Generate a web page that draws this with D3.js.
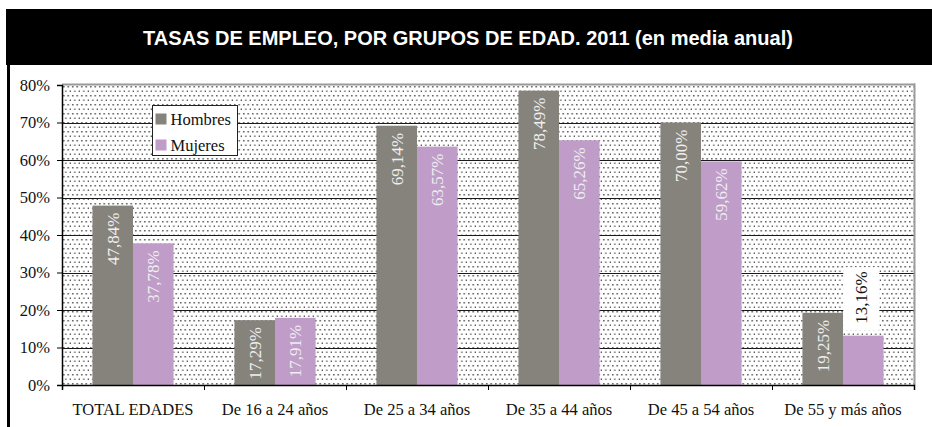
<!DOCTYPE html>
<html lang="es">
<head>
<meta charset="utf-8">
<title>Tasas de empleo por grupos de edad 2011</title>
<script src="https://cdn.jsdelivr.net/npm/d3@7"></script>
<style>
  html, body { margin: 0; padding: 0; background: #ffffff; }
  svg { display: block; }
</style>
</head>
<body>
<div id="container"></div>
<script>
// Tasas de empleo, por grupos de edad. 2011 - grouped bar chart

//_____ DATA _____
const categories = [ 'TOTAL EDADES', 'De 16 a 24 años', 'De 25 a 34 años', 'De 35 a 44 años', 'De 45 a 54 años', 'De 55 y más años' ];
const seriesNames = [ 'Hombres', 'Mujeres' ];
const hombres = [ 47.84, 17.29, 69.14, 78.49, 70.00, 19.25 ];
const mujeres = [ 37.78, 17.91, 63.57, 65.26, 59.62, 13.16 ];
const yTicks = [ 0, 10, 20, 30, 40, 50, 60, 70, 80 ];

const titleText = 'TASAS DE EMPLEO, POR GRUPOS DE EDAD. 2011 (en media anual)';


//_____ VARIABLES _____
const W = 932, H = 427;
const margin = { top: 85, right: 18, bottom: 42, left: 62 };
const width = W - margin.left - margin.right;
const height = H - margin.top - margin.bottom;

const SERIF = "'Liberation Serif', 'DejaVu Serif', 'Times New Roman', serif";
const SANS = "'Liberation Sans', Arial, 'DejaVu Sans', sans-serif";

const colors = { Hombres: '#86837d', Mujeres: '#c09cc8' };

//>>> Flatten into one row per bar
const rows = [];
categories.forEach( ( c, i ) => {
  rows.push( { cat: c, serie: 'Hombres', value: hombres[ i ] } );
  rows.push( { cat: c, serie: 'Mujeres', value: mujeres[ i ] } );
} );


//_____ SCALES _____
const x0 = d3.scaleBand()
  .domain( categories )
  .range( [ 0, width ] )
  .paddingInner( 0 )
  .paddingOuter( 0 );

//--- gap between groups = 150% of a bar width
const x1 = d3.scaleBand()
  .domain( seriesNames )
  .range( [ 0, x0.bandwidth() ] )
  .paddingInner( 0 )
  .paddingOuter( 0.75 );

const y = d3.scaleLinear()
  .domain( [ 0, 80 ] )
  .range( [ height, 0 ] );

//>>> boundaries between groups for the x tick marks
const xEdges = d3.scaleLinear()
  .domain( [ 0, categories.length ] )
  .range( [ 0, width ] );


//_____ SVG _____
const svg = d3.select( '#container' )
  .append( 'svg' )
  .attr( 'width', W )
  .attr( 'height', H );

//>>> dotted background pattern
const defs = svg.append( 'defs' );
const pattern = defs.append( 'pattern' )
  .attr( 'id', 'dots' )
  .attr( 'patternUnits', 'userSpaceOnUse' )
  .attr( 'width', 4.5 )
  .attr( 'height', 9 );
pattern.append( 'rect' )
  .attr( 'width', 4.5 )
  .attr( 'height', 9 )
  .attr( 'fill', '#ffffff' );
[ [ 1, 1 ], [ 3.25, 5.5 ] ].forEach( p => {
  pattern.append( 'rect' )
    .attr( 'x', p[ 0 ] )
    .attr( 'y', p[ 1 ] )
    .attr( 'width', 1.5 )
    .attr( 'height', 1.5 )
    .attr( 'fill', '#555555' );
} );


//_____ TITLE BAR _____
svg.append( 'rect' )
  .attr( 'x', 6 )
  .attr( 'y', 9 )
  .attr( 'width', W - 6 )
  .attr( 'height', 56 )
  .attr( 'fill', '#000000' );

svg.append( 'text' )
  .attr( 'id', 'title' )
  .attr( 'x', 468 )
  .attr( 'y', 45 )
  .attr( 'text-anchor', 'middle' )
  .style( 'font-family', SANS )
  .style( 'font-weight', 'bold' )
  .style( 'font-size', '20px' )
  .style( 'fill', '#ffffff' )
  .text( titleText );

//>>> black rule down the left side
svg.append( 'rect' )
  .attr( 'x', 7 )
  .attr( 'y', 65 )
  .attr( 'width', 3 )
  .attr( 'height', H - 65 )
  .attr( 'fill', '#000000' );


//_____ PLOT AREA _____
const g = svg.append( 'g' )
  .attr( 'transform', `translate(${margin.left},${margin.top})` );

g.append( 'rect' )
  .attr( 'width', width )
  .attr( 'height', height )
  .attr( 'fill', 'url(#dots)' );

//>>> gridlines
g.append( 'g' )
  .attr( 'class', 'grid' )
  .selectAll( 'line' )
  .data( yTicks.filter( t => t > 0 && t < 80 ) )
  .enter()
  .append( 'line' )
  .attr( 'x1', 0 )
  .attr( 'x2', width )
  .attr( 'y1', d => Math.round( y( d ) ) + 0.5 )
  .attr( 'y2', d => Math.round( y( d ) ) + 0.5 )
  .attr( 'stroke', '#1a1a1a' )
  .attr( 'stroke-width', 1 );

//>>> gray frame on top and right
g.append( 'line' )
  .attr( 'x1', 0 ).attr( 'x2', width + 1 )
  .attr( 'y1', -0.5 ).attr( 'y2', -0.5 )
  .attr( 'stroke', '#9a9a9a' )
  .attr( 'stroke-width', 2 );
g.append( 'line' )
  .attr( 'x1', width + 0.5 ).attr( 'x2', width + 0.5 )
  .attr( 'y1', -1.5 ).attr( 'y2', height )
  .attr( 'stroke', '#9a9a9a' )
  .attr( 'stroke-width', 2 );


//_____ BARS _____
const groups = g.selectAll( '.group' )
  .data( categories )
  .enter()
  .append( 'g' )
  .attr( 'class', 'group' )
  .attr( 'transform', d => `translate(${x0( d )},0)` );

groups.selectAll( 'rect' )
  .data( c => rows.filter( r => r.cat === c ) )
  .enter()
  .append( 'rect' )
  .attr( 'class', 'bar' )
  .attr( 'x', d => x1( d.serie ) )
  .attr( 'y', d => y( d.value ) )
  .attr( 'width', x1.bandwidth() )
  .attr( 'height', d => height - y( d.value ) )
  .attr( 'fill', d => colors[ d.serie ] );


//_____ BAR LABELS _____
const fmt = v => v.toFixed( 2 ).replace( '.', ',' ) + '%';
const labelSize = 17;

groups.each( function ( c ) {
  const grp = d3.select( this );
  rows.filter( r => r.cat === c ).forEach( d => {
    const cx = x1( d.serie ) + x1.bandwidth() / 2;
    const top = y( d.value );
    const inside = ( height - top ) > 62;

    if ( inside ) {
      //--- inside end, reading upward
      grp.append( 'text' )
        .attr( 'transform', `translate(${cx},${top + 7}) rotate(-90)` )
        .attr( 'text-anchor', 'end' )
        .attr( 'dy', '0.35em' )
        .style( 'font-family', SERIF )
        .style( 'font-size', labelSize + 'px' )
        .style( 'fill', '#eeeeee' )
        .text( fmt( d.value ) );
    } else {
      //--- too short: label above the bar on a white box
      const t = grp.append( 'text' )
        .attr( 'transform', `translate(${cx - 2},${top - 12}) rotate(-90)` )
        .attr( 'text-anchor', 'start' )
        .attr( 'dy', '0.35em' )
        .style( 'font-family', SERIF )
        .style( 'font-size', labelSize + 'px' )
        .style( 'fill', '#111111' )
        .text( fmt( d.value ) );
      const len = t.node().getComputedTextLength();
      grp.insert( 'rect', 'text' )
        .attr( 'x', cx - 20 )
        .attr( 'y', top - 12 - len - 4 )
        .attr( 'width', 36 )
        .attr( 'height', len + 4 + 7 )
        .attr( 'fill', '#ffffff' );
    }
  } );
} );


//_____ AXES _____
const yAxis = d3.axisLeft( y )
  .tickValues( yTicks )
  .tickSize( 5 )
  .tickPadding( 7 )
  .tickFormat( d => d + '%' );

const yG = g.append( 'g' )
  .attr( 'id', 'y-axis' )
  .call( yAxis );
yG.select( '.domain' ).attr( 'stroke', '#000000' ).attr( 'stroke-width', 1.5 );
yG.selectAll( '.tick line' ).attr( 'stroke', '#000000' );
yG.selectAll( '.tick text' )
  .style( 'font-family', SERIF )
  .style( 'font-size', '16.5px' )
  .attr( 'fill', '#111111' );

//>>> tick marks at the group boundaries
const xTicks = d3.axisBottom( xEdges )
  .tickValues( d3.range( 0, categories.length + 1 ) )
  .tickSize( 5 )
  .tickFormat( '' );

const xG = g.append( 'g' )
  .attr( 'id', 'x-axis' )
  .attr( 'transform', `translate(0,${height})` )
  .call( xTicks );
xG.select( '.domain' ).attr( 'stroke', '#000000' ).attr( 'stroke-width', 1.5 );
xG.selectAll( '.tick line' ).attr( 'stroke', '#000000' );

//>>> category labels centred in each group
const xLabels = d3.axisBottom( x0 )
  .tickSize( 0 )
  .tickPadding( 18 );

const xl = g.append( 'g' )
  .attr( 'transform', `translate(0,${height})` )
  .call( xLabels );
xl.select( '.domain' ).remove();
xl.selectAll( '.tick text' )
  .style( 'font-family', SERIF )
  .style( 'font-size', '16.5px' )
  .attr( 'fill', '#111111' );


//_____ LEGEND _____
const legend = svg.append( 'g' )
  .attr( 'id', 'legend' )
  .attr( 'transform', 'translate(152.5,105.5)' );

legend.append( 'rect' )
  .attr( 'width', 85 )
  .attr( 'height', 50 )
  .attr( 'fill', '#ffffff' )
  .attr( 'stroke', '#222222' )
  .attr( 'stroke-width', 1 );

seriesNames.forEach( ( s, i ) => {
  legend.append( 'rect' )
    .attr( 'x', 3 )
    .attr( 'y', 8 + i * 26 )
    .attr( 'width', 11 )
    .attr( 'height', 11 )
    .attr( 'fill', colors[ s ] );

  legend.append( 'text' )
    .attr( 'x', 18 )
    .attr( 'y', 19 + i * 26 )
    .style( 'font-family', SERIF )
    .style( 'font-size', '16.5px' )
    .style( 'fill', '#111111' )
    .text( s );
} );
</script>
</body>
</html>
